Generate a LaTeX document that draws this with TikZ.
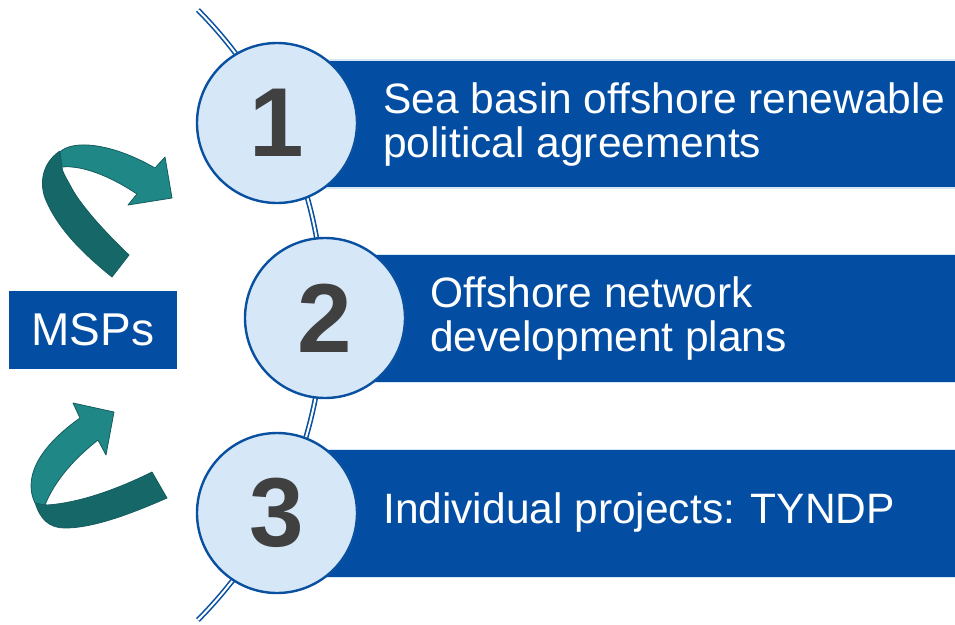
\documentclass[tikz,border=0pt]{standalone}
\usepackage{fontspec}
\setmainfont{Liberation Sans}
\usetikzlibrary{positioning}
\definecolor{barblue}{RGB}{3,78,162}
\definecolor{ringblue}{RGB}{10,80,160}
\definecolor{discfill}{RGB}{214,232,248}
\definecolor{edgeblue}{RGB}{214,230,246}
\definecolor{numgray}{RGB}{64,64,64}
\definecolor{tealfront}{RGB}{31,136,135}
\definecolor{tealback}{RGB}{22,103,104}
\definecolor{tealline}{RGB}{20,92,95}
\tikzset{
  bar/.style={fill=barblue, draw=edgeblue, line width=1.5pt, minimum width=680pt, minimum height=128pt, inner sep=0pt, anchor=west},
  disc/.style={circle, fill=discfill, draw=ringblue, line width=2.4pt, minimum size=160pt, inner sep=0pt, text=numgray, font=\fontsize{98}{98}\selectfont\bfseries},
  bartext/.style={anchor=west, align=left, text=white, inner sep=0pt, font=\fontsize{42.5}{44}\selectfont},
  ribbonfront/.style={fill=tealfront, draw=tealline, line width=0.8pt, line join=round},
  ribbonback/.style={fill=tealback, draw=tealline, line width=0.8pt, line join=round}
}
\begin{document}
\begin{tikzpicture}[x=1pt,y=-1pt]
    \useasboundingbox (0,0) rectangle (955,624);
    \coordinate (hub) at (-109.7,315);
    \draw[ringblue, line width=1.6pt, double=white, double distance=2pt] (hub) ++(-44.75:433.2) arc[start angle=-44.75, end angle=44.75, radius=433.2];
    \foreach \n/\y in {1/124, 2/318.5, 3/513.5}{
        \node[bar] (bar\n) at (290,\y) {};
    }
    \foreach \n/\x/\y in {1/277/123, 2/325/318, 3/277/513}{
        \node[disc] (disc\n) at (\x,\y) {\n};
    }
    \node[bartext] (txt1) at (383,125) {Sea basin offshore renewable\\political agreements};
    \node[bartext] (txt2) at (430,319) {Offshore network\\development plans};
    \node[bartext] (txt3) at (383,513) {Individual projects: TYNDP};
    \node[fill=barblue, text=white, minimum width=168pt, minimum height=78pt, inner sep=0pt, font=\fontsize{46}{46}\selectfont] (msps) at (93,330) {MSPs};
    \path[ribbonback] (60,151) .. controls (46,160) and (38,178) .. (45,198) .. controls (58,230) and (85,255) .. (112,277) -- (129,255) .. controls (105,232) and (80,205) .. (70,185) .. controls (65,176) and (62,171) .. (62,167) -- cycle;
    \path[ribbonfront] (60,152) .. controls (72,140) and (110,142) .. (155,168) -- (165,157) -- (172,198) -- (128,205) -- (137,194) .. controls (110,176) and (82,165) .. (62,167) -- cycle;
    \path[ribbonback] (152,472) .. controls (120,488) and (80,503) .. (47,505) -- (35,502) .. controls (40,520) and (50,528) .. (65,528) .. controls (95,528) and (135,512) .. (167,498) -- cycle;
    \path[ribbonfront] (35,503) .. controls (24,480) and (35,450) .. (80,418) -- (73,403) -- (114,412) -- (106,455) -- (98,440) .. controls (75,458) and (55,480) .. (45,505) -- cycle;
\end{tikzpicture}
\end{document}
